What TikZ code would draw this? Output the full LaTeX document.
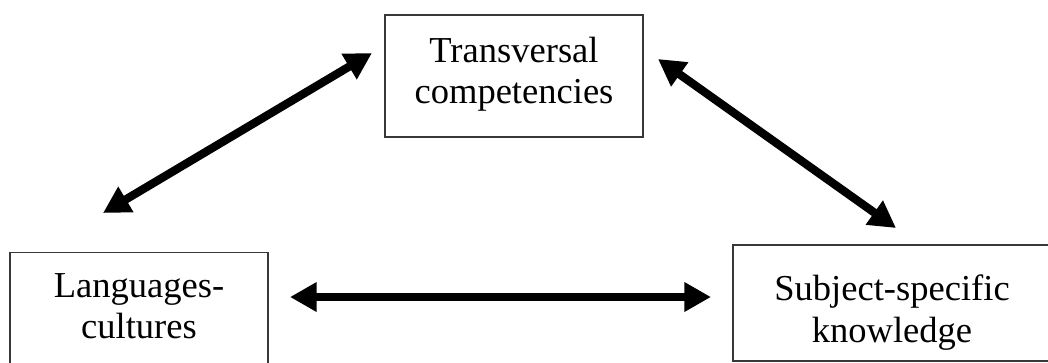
\documentclass[tikz,border=0pt]{standalone}
\usepackage{fontspec}
\setmainfont{Liberation Serif}
\usetikzlibrary{arrows.meta}
\begin{document}
\begin{tikzpicture}[x=0.75pt,y=-0.75pt,
  box/.style={draw=black!78,line width=1.2pt,fill=white,inner sep=0pt,minimum width=#1},
  lbl/.style={align=center,inner sep=0pt,font=\fontsize{27.4}{31}\selectfont},
  dbl/.style={line width=6.2pt,{Triangle[length=20pt,width=21pt]}-{Triangle[length=20pt,width=21pt]}}]
\clip (0,0) rectangle (1048,362);
\useasboundingbox (0,0) rectangle (1048,362);
% boxes
\node[box=193.5pt,minimum height=91.5pt] (trans) at (514,76) {};
\node[box=193.5pt,minimum height=100pt] (lang) at (139,319) {};
\node[box=238.5pt,minimum height=87pt] (subj) at (892,303) {};
% texts
\node[lbl] (transtxt) at (514,74.5) {Transversal\\competencies};
\node[lbl] (langtxt) at (139,306.5) {Languages-\\cultures};
\node[lbl] (subjtxt) at (892,312.5) {Subject-specific\\knowledge};
% arrow ends
\coordinate (a1) at (103,213);
\coordinate (a2) at (372,53);
\coordinate (b1) at (658,59);
\coordinate (b2) at (896,228);
\coordinate (c1) at (290,297);
\coordinate (c2) at (711,297);
\draw[dbl] (a1) -- (a2);
\draw[dbl] (b1) -- (b2);
\draw[dbl] (c1) -- (c2);
\end{tikzpicture}
\end{document}
